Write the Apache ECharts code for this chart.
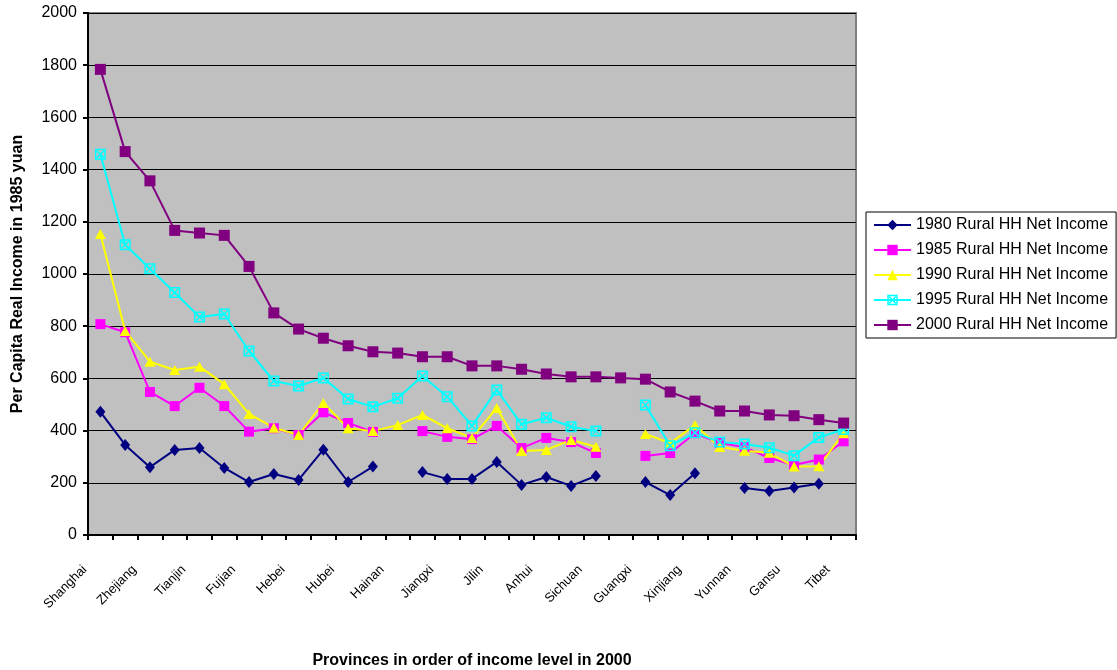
<!DOCTYPE html>
<html>
<head>
<meta charset="utf-8">
<script src="https://cdn.jsdelivr.net/npm/echarts@6/dist/echarts.min.js"></script>
<style>
  html, body { margin: 0; padding: 0; background: #ffffff; }
  #chart { width: 1117px; height: 670px; }
</style>
</head>
<body>
<div id="chart"></div>
<script>
// Provinces ranked by 2000 rural household net income (every other name is labelled)
const provinces = ['Shanghai', 'Beijing', 'Zhejiang', 'Jiangsu', 'Tianjin', 'Guangdong', 'Fujian',
  'Shandong', 'Hebei', 'Liaoning', 'Hubei', 'Heilongjiang', 'Hainan', 'Hunan', 'Jiangxi',
  'Inner Mongolia', 'Jilin', 'Henan', 'Anhui', 'Shanxi', 'Sichuan', 'Chongqing', 'Guangxi',
  'Ningxia', 'Xinjiang', 'Qinghai', 'Yunnan', 'Shaanxi', 'Gansu', 'Guizhou', 'Tibet'];

// Per capita real income, 1985 yuan (null = no data for that year)
const income1980 = [472, 345, 260, 326, 333, 257, 203, 234, 211, 327, 203, 262, null, 241, 215,
  215, 280, 192, 222, 188, 226, null, 203, 153, 237, null, 180, 169, 182, 196, null];
const income1985 = [808, 777, 548, 494, 564, 494, 396, 409, 383, 470, 429, 395, null, 398, 376,
  367, 418, 333, 372, 356, 314, null, 303, 314, 390, 352, 337, 295, 268, 289, 359];
const income1990 = [1153, 782, 664, 632, 645, 578, 464, 411, 383, 506, 409, 398, 421, 460, 409,
  372, 487, 322, 326, 364, 338, null, 387, 352, 421, 337, 323, 315, 262, 263, 390];
const income1995 = [1459, 1112, 1020, 929, 835, 847, 705, 590, 571, 602, 521, 491, 524, 609, 530,
  418, 556, 424, 449, 415, 398, null, 498, 342, 392, 356, 349, 334, 304, 374, 404];
const income2000 = [1784, 1469, 1357, 1167, 1157, 1148, 1029, 851, 789, 754, 725, 702, 697, 683, 683,
  648, 648, 635, 617, 606, 606, 602, 597, 548, 513, 475, 475, 460, 457, 442, 429];

const seriesNames = ['1980 Rural HH Net Income', '1985 Rural HH Net Income', '1990 Rural HH Net Income',
  '1995 Rural HH Net Income', '2000 Rural HH Net Income'];

const FONT = '"Liberation Sans", Arial, sans-serif';

// hollow square with an X inside
const boxX = 'path://M0 0H10V10H0Z M1.4 1.4V8.6H8.6V1.4Z M1.4 2.4L2.4 1.4L8.6 7.6L7.6 8.6Z M8.6 2.4L2.4 8.6L1.4 7.6L7.6 1.4Z';

function lineSeries(name, data, color, symbol, size) {
  return {
    name: name,
    type: 'line',
    data: data,
    connectNulls: false,
    symbol: symbol,
    symbolSize: size,
    showAllSymbol: true,
    lineStyle: { color: color, width: 2 },
    itemStyle: { color: color, borderWidth: 0 },
    emphasis: { disabled: true }
  };
}

const chart = echarts.init(document.getElementById('chart'), null, { renderer: 'canvas' });

chart.setOption({
  backgroundColor: '#ffffff',
  animation: false,
  textStyle: { fontFamily: FONT, color: '#000' },
  grid: {
    left: 88, right: 261, top: 13, bottom: 135,
    outerBoundsMode: 'none',
    containLabel: false,
    show: true,
    backgroundColor: '#c0c0c0',
    borderColor: '#808080',
    borderWidth: 2
  },
  legend: {
    orient: 'vertical',
    left: 866, top: 212,
    width: 250,
    padding: [5, 8, 5, 7],
    itemWidth: 37,
    itemHeight: 13,
    itemGap: 9,
    borderColor: '#000',
    borderWidth: 1,
    backgroundColor: '#ffffff',
    textStyle: { fontSize: 16, fontFamily: FONT, color: '#000' },
    data: seriesNames
  },
  xAxis: {
    type: 'category',
    data: provinces,
    boundaryGap: true,
    name: 'Provinces in order of income level in 2000',
    nameLocation: 'middle',
    nameGap: 118,
    nameTextStyle: { fontSize: 16, fontWeight: 'bold', fontFamily: FONT, color: '#000' },
    axisLine: { lineStyle: { color: '#000', width: 2 } },
    axisTick: { show: true, interval: 0, alignWithLabel: false, length: 5, lineStyle: { color: '#000', width: 2 } },
    axisLabel: {
      interval: 1,
      rotate: 45,
      margin: 17,
      padding: [0, 22, 0, 0],
      fontSize: 13,
      fontFamily: FONT,
      color: '#000'
    },
    splitLine: { show: false }
  },
  yAxis: {
    type: 'value',
    min: 0, max: 2000, interval: 200,
    name: 'Per Capita Real Income in 1985 yuan',
    nameLocation: 'middle',
    nameRotate: 90,
    nameGap: 62,
    nameTextStyle: { fontSize: 16, fontWeight: 'bold', fontFamily: FONT, color: '#000' },
    axisLine: { show: true, lineStyle: { color: '#000', width: 2 } },
    axisTick: { show: true, length: 5, lineStyle: { color: '#000', width: 2 } },
    axisLabel: { fontSize: 16, margin: 11, fontFamily: FONT, color: '#000', formatter: function (v) { return String(v); } },
    splitLine: { show: true, lineStyle: { color: '#000', width: 1 } }
  },
  series: [
    lineSeries(seriesNames[0], income1980, '#000080', 'diamond', [10, 12]),
    lineSeries(seriesNames[1], income1985, '#ff00ff', 'rect', 10),
    lineSeries(seriesNames[2], income1990, '#ffff00', 'triangle', [11, 10]),
    lineSeries(seriesNames[3], income1995, '#00ffff', boxX, 11),
    lineSeries(seriesNames[4], income2000, '#800080', 'rect', 11)
  ]
});
</script>
</body>
</html>
